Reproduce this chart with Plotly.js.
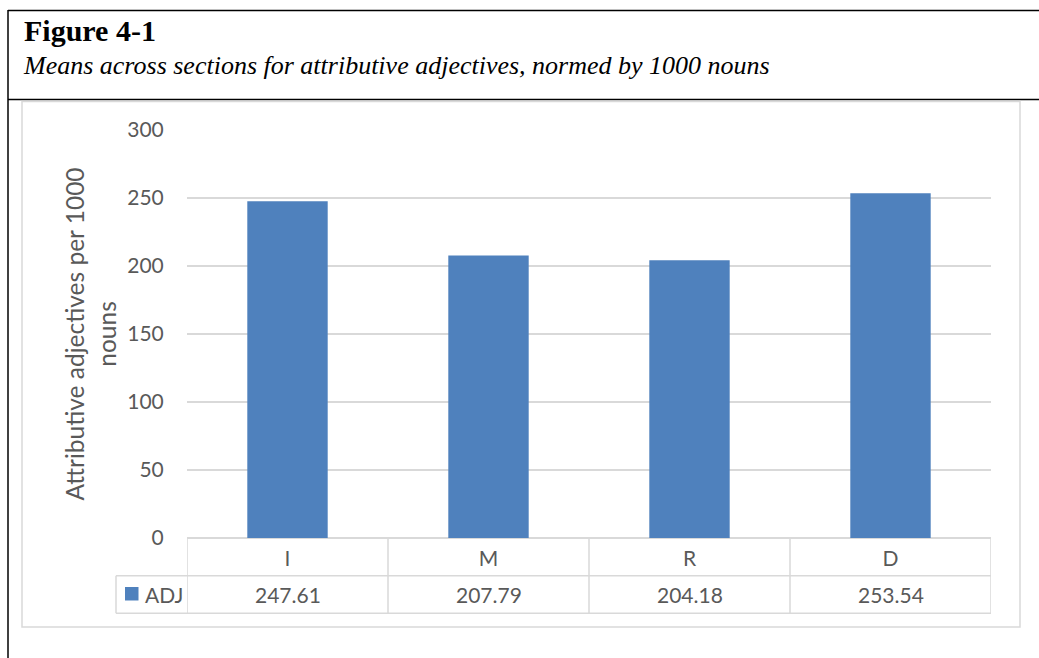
<!DOCTYPE html>
<html>
<head>
<meta charset="utf-8">
<script src="https://cdn.plot.ly/plotly-3.0.1.min.js"></script>
<style>
html,body{margin:0;padding:0;background:#fff;}
#chart{width:1039px;height:658px;}
</style>
</head>
<body>
<div id="chart"></div>
<script>
const categories = ['I', 'M', 'R', 'D'];
const seriesName = 'ADJ';
const adjValues = [247.61, 207.79, 204.18, 253.54];
const yTicks = [0, 50, 100, 150, 200, 250, 300];

const L = 187, R = 991, T = 130, B = 538;
const W = R - L, H = B - T;
const px = x => (x - L) / W;
const py = y => (B - y) / H;

const grid = '#d9d9d9';
const textGray = '#595959';
const barColor = '#4f81bd';
const font = 'Lato, "Open Sans", sans-serif';

const shapes = [
  // figure frame (black)
  {type:'line', xref:'paper', yref:'paper', x0:px(8), x1:px(1045), y0:py(10.5), y1:py(10.5), line:{color:'#000', width:1.5}},
  {type:'line', xref:'paper', yref:'paper', x0:px(8), x1:px(1045), y0:py(99.5), y1:py(99.5), line:{color:'#000', width:1.5}},
  {type:'line', xref:'paper', yref:'paper', x0:px(8), x1:px(8), y0:py(10), y1:py(665), line:{color:'#000', width:1.5}},
  // chart area border
  {type:'rect', xref:'paper', yref:'paper', x0:px(22), x1:px(1020), y0:py(101.5), y1:py(627), line:{color:grid, width:1.5}},
  // data table
  {type:'line', xref:'paper', yref:'paper', x0:px(116), x1:1, y0:py(575.7), y1:py(575.7), line:{color:grid, width:1.5}},
  {type:'line', xref:'paper', yref:'paper', x0:px(116), x1:1, y0:py(613.3), y1:py(613.3), line:{color:grid, width:1.5}},
  {type:'line', xref:'paper', yref:'paper', x0:px(116), x1:px(116), y0:py(575.7), y1:py(613.3), line:{color:grid, width:1.5}},
  // legend key in the data table
  {type:'rect', xref:'paper', yref:'paper', x0:px(125), x1:px(138.5), y0:py(587), y1:py(600.5), line:{width:0}, fillcolor:barColor}
];
for (let i = 0; i <= categories.length; i++) {
  shapes.push({type:'line', xref:'x', yref:'paper', x0:i-0.5, x1:i-0.5, y0:0, y1:py(613.3), line:{color:grid, width:1.5}});
}

const annotations = [
  {xref:'paper', yref:'paper', x:px(22), y:py(30), xanchor:'left', yanchor:'middle', showarrow:false,
   text:'<b>Figure 4-1</b>', font:{family:'"Liberation Serif", serif', size:30, color:'#000'}},
  {xref:'paper', yref:'paper', x:px(21), y:py(66), xanchor:'left', yanchor:'middle', showarrow:false,
   text:'<i>Means across sections for attributive adjectives, normed by 1000 nouns</i>', font:{family:'"Liberation Serif", serif', size:26, color:'#000'}},
  {xref:'paper', yref:'paper', x:px(143), y:py(594.5), xanchor:'left', yanchor:'middle', showarrow:false,
   text:seriesName, font:{family:font, size:21, color:textGray}}
];
categories.forEach((c, i) => {
  annotations.push({xref:'x', yref:'paper', x:c, y:py(594.5), xanchor:'center', yanchor:'middle', showarrow:false,
    text:adjValues[i].toFixed(2), font:{family:font, size:21, color:textGray}});
});

const data = [{
  type:'bar', x:categories, y:adjValues, name:seriesName, width:0.4,
  marker:{color:barColor}, hoverinfo:'x+y'
}];

const layout = {
  width:1039, height:658,
  margin:{l:L, r:1039-R, t:T, b:658-B, pad:0},
  paper_bgcolor:'#fff', plot_bgcolor:'#fff',
  font:{family:font, color:textGray},
  showlegend:false,
  xaxis:{type:'category', range:[-0.5, categories.length-0.5], showgrid:false, zeroline:false, showline:false,
         ticks:'outside', ticklen:2, tickcolor:'rgba(0,0,0,0)', tickfont:{family:font, size:21, color:textGray}, fixedrange:true},
  yaxis:{range:[0,300], tickvals:yTicks, showgrid:true, gridcolor:grid, gridwidth:1.5,
         zeroline:true, zerolinecolor:grid, zerolinewidth:1.5, showline:false,
         ticks:'outside', ticklen:18, tickcolor:'rgba(0,0,0,0)', tickfont:{family:font, size:21, color:textGray},
         title:{text:'Attributive adjectives per 1000<br>nouns', font:{family:font, size:24.5, color:textGray}, standoff:3},
         fixedrange:true},
  shapes:shapes,
  annotations:annotations
};

Plotly.newPlot('chart', data, layout, {displayModeBar:false, staticPlot:true});
</script>
</body>
</html>
